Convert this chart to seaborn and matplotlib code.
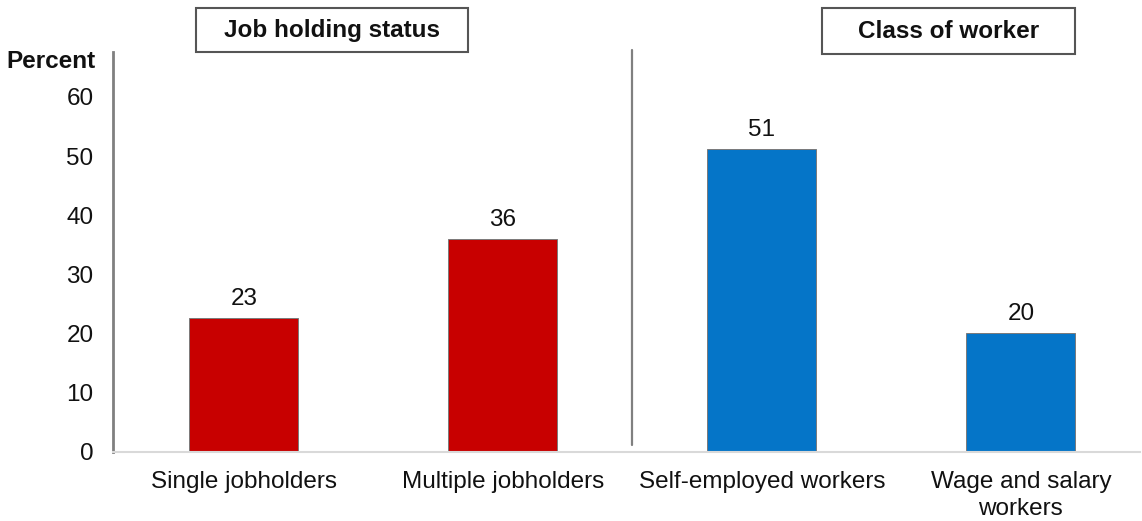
import matplotlib
matplotlib.use("Agg")
import matplotlib.pyplot as plt
import seaborn as sns
import pandas as pd
from matplotlib.patches import Rectangle

categories = ["Single jobholders", "Multiple jobholders", "Self-employed workers", "Wage and salary\nworkers"]
groups = ["Job holding status", "Job holding status", "Class of worker", "Class of worker"]
values = [22.6, 36.0, 51.2, 20.1]
value_labels = ["23", "36", "51", "20"]
yticks = [0, 10, 20, 30, 40, 50, 60]
group_titles = ["Job holding status", "Class of worker"]

sns.set_theme(style="white")
plt.rcParams['font.family'] = ['Liberation Sans', 'DejaVu Sans']

df = pd.DataFrame({"category": categories, "group": groups, "value": values})

fig = plt.figure(figsize=(11.42, 5.21), dpi=100)
ax = fig.add_axes([113/1142, 1-452/521, (1140-113)/1142, 400/521])

sns.barplot(data=df, x="category", y="value", hue="group", dodge=False,
            palette={"Job holding status": "#C80000", "Class of worker": "#0575C8"},
            saturation=1, width=0.42, ax=ax, legend=False,
            edgecolor="#7a7a7a", linewidth=0.7)

for i, (v, lab) in enumerate(zip(values, value_labels)):
    ax.annotate(lab, (i, v), xytext=(0, 6), textcoords="offset points",
                ha="center", va="bottom", fontsize=17.5, color="#111111")

ax.set_xlim(-0.505, 3.46)
ax.set_ylim(0, 67.6)
ax.set_yticks(yticks)
ax.set_yticklabels([str(t) for t in yticks], fontsize=17.5, color="#111111")
ax.tick_params(axis="y", length=0, pad=14)
ax.tick_params(axis="x", length=0, pad=14, labelsize=17.5, labelcolor="#111111")
for lab in ax.get_xticklabels():
    lab.set_linespacing(1.25)
ax.set_xlabel("")
ax.set_ylabel("")
for s in ["top", "right"]:
    ax.spines[s].set_visible(False)
ax.spines["left"].set_color("#808080")
ax.spines["left"].set_linewidth(2)
ax.spines["bottom"].set_color("#D9D9D9")
ax.spines["bottom"].set_linewidth(1.5)

ax.axvline(1.5, ymin=0.018, ymax=1.005, color="#808080", linewidth=1.6, clip_on=False)

fig.text(95/1142, 1-62/521, "Percent", ha="right", va="center", fontsize=17.5, fontweight="bold", color="#111111")

boxes = [(196, 8, 468, 52), (822, 8, 1075, 54)]
for title, (x0, y0, x1, y1) in zip(group_titles, boxes):
    fig.patches.append(Rectangle((x0/1142, 1-y1/521), (x1-x0)/1142, (y1-y0)/521,
                                 transform=fig.transFigure, fill=False,
                                 edgecolor="#555555", linewidth=1.5))
    fig.text((x0+x1)/2/1142, 1-(y0+y1)/2/521, title, ha="center", va="center",
             fontsize=17.5, fontweight="bold", color="#111111")

fig.savefig("out.png", dpi=100)
